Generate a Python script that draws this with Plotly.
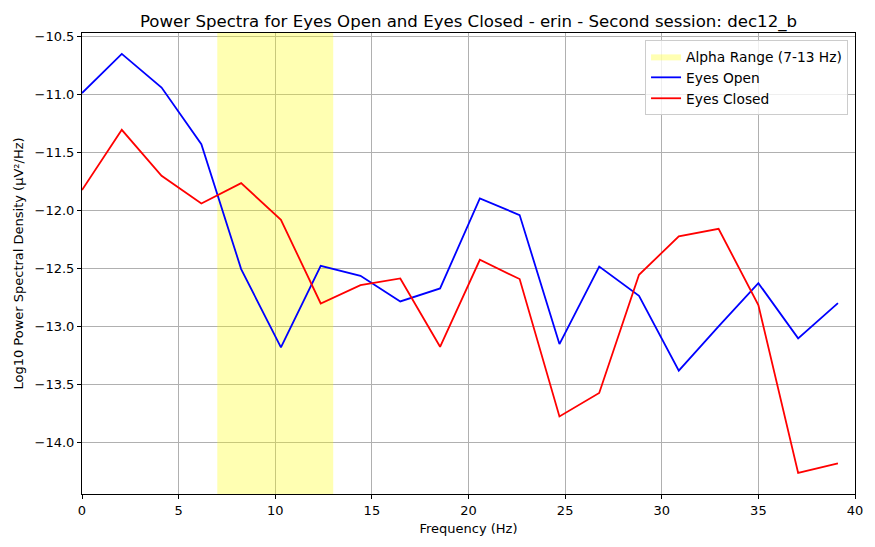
import plotly.graph_objects as go

step = 2.0588
freqs = [round(i * step, 4) for i in range(20)]
eyes_open = [-10.99, -10.653, -10.943, -11.430, -12.506, -13.181, -12.478, -12.564, -12.785, -12.673,
             -11.898, -12.041, -13.152, -12.484, -12.736, -13.381, -13.00, -12.627, -13.103, -12.799]
eyes_closed = [-11.826, -11.307, -11.703, -11.941, -11.766, -12.082, -12.802, -12.644, -12.587, -13.175,
               -12.426, -12.592, -13.775, -13.573, -12.555, -12.225, -12.159, -12.816, -14.262, -14.179]
alpha_range = [7, 13]

Y_RANGE = [-14.443, -10.473]
X_RANGE = [0, 40]
FONT = "DejaVu Sans"

fig = go.Figure()
fig.add_trace(go.Scatter(
    x=[alpha_range[0], alpha_range[1], alpha_range[1], alpha_range[0]],
    y=[Y_RANGE[0], Y_RANGE[0], Y_RANGE[1], Y_RANGE[1]],
    fill="toself", fillcolor="rgba(255,255,0,0.3)", mode="lines", line=dict(width=0),
    name="Alpha Range (7-13 Hz)", hoverinfo="skip"))
fig.add_trace(go.Scatter(x=freqs, y=eyes_open, mode="lines", name="Eyes Open",
                         line=dict(color="blue", width=1.8)))
fig.add_trace(go.Scatter(x=freqs, y=eyes_closed, mode="lines", name="Eyes Closed",
                         line=dict(color="red", width=1.8)))

axis_common = dict(showline=True, linecolor="black", linewidth=1, mirror=True,
                   ticks="outside", ticklen=4, tickcolor="black",
                   showgrid=True, gridcolor="#b0b0b0", gridwidth=1, zeroline=False,
                   tickfont=dict(family=FONT, size=13, color="black"))

fig.update_layout(
    width=875, height=547,
    margin=dict(l=82, r=17, t=33, b=53),
    paper_bgcolor="white", plot_bgcolor="white",
    font=dict(family=FONT, size=13, color="black"),
    title=dict(text="Power Spectra for Eyes Open and Eyes Closed - erin - Second session: dec12_b",
               x=0.5, xref="paper", xanchor="center", y=1, yref="paper", yanchor="bottom", pad=dict(b=6),
               font=dict(family=FONT, size=16.6, color="black")),
    xaxis=dict(range=X_RANGE, dtick=5, tick0=0,
               title=dict(text="Frequency (Hz)", font=dict(family=FONT, size=13), standoff=7),
               **axis_common),
    yaxis=dict(range=Y_RANGE, dtick=0.5, tickformat=".1f",
               title=dict(text="Log10 Power Spectral Density (μV²/Hz)", font=dict(family=FONT, size=13), standoff=8),
               **axis_common),
    legend=dict(x=0.991, y=0.985, xanchor="right", yanchor="top",
                bgcolor="rgba(255,255,255,0.8)", bordercolor="#cccccc", borderwidth=1,
                font=dict(family=FONT, size=13.8), tracegroupgap=0),
    showlegend=True,
)

fig.write_html("out.html")
